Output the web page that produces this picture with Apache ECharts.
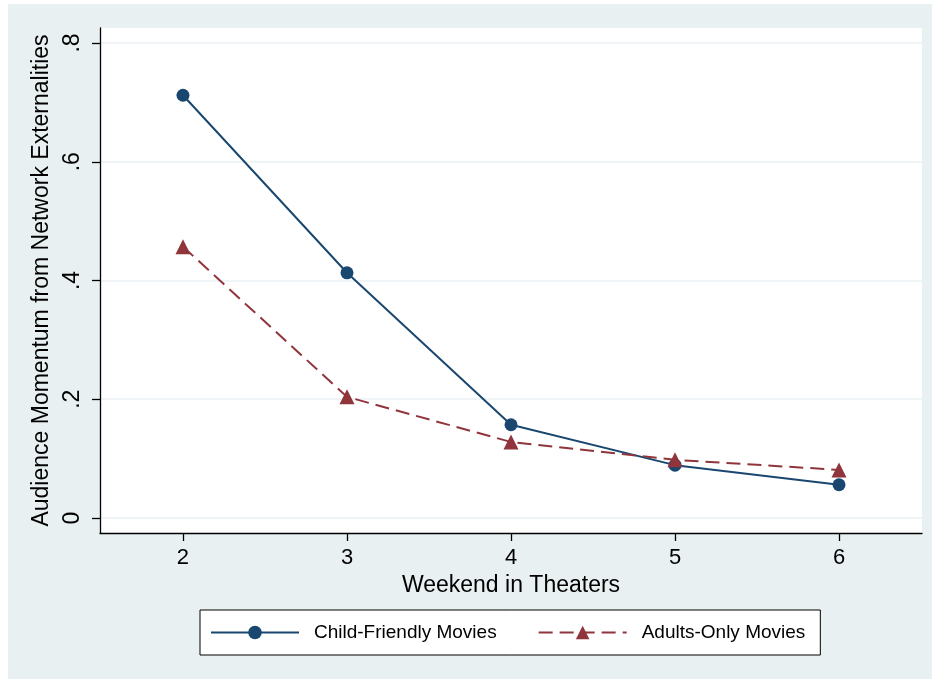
<!DOCTYPE html>
<html>
<head>
<meta charset="utf-8">
<script src="https://cdn.jsdelivr.net/npm/echarts@6/dist/echarts.min.js"></script>
<style>
  html, body { margin: 0; padding: 0; background: #ffffff; }
  #chart { width: 932px; height: 680px; }
</style>
</head>
<body>
<div id="chart"></div>
<script>
// Weekend in theaters (x) and audience momentum per audience type
const weekends = [2, 3, 4, 5, 6];
const childFriendly = [0.712, 0.413, 0.157, 0.089, 0.056];
const adultsOnly = [0.457, 0.204, 0.128, 0.098, 0.081];
const yTicks = [0, 0.2, 0.4, 0.6, 0.8];
const xTicks = [2, 3, 4, 5, 6];

const FONT = 'Liberation Sans, Arial, Helvetica, sans-serif';
const NAVY = '#1a476f';
const MAROON = '#90353b';

function fmtY(v) {
  if (Math.abs(v) < 1e-9) return '0';
  return String(Math.round(v * 10) / 10).replace(/^0\./, '.');
}

const chart = echarts.init(document.getElementById('chart'));
chart.setOption({
  animation: false,
  backgroundColor: 'transparent',
  graphic: [{
    type: 'rect',
    z: -10,
    silent: true,
    shape: { x: 8, y: 4, width: 924, height: 675 },
    style: { fill: '#e9f0f2' }
  }],
  grid: {
    left: 100, top: 28, right: 10, bottom: 147,
    show: true, backgroundColor: '#ffffff', borderWidth: 0
  },
  xAxis: {
    type: 'value',
    min: 1.494, max: 6.506,
    name: 'Weekend in Theaters',
    nameLocation: 'middle',
    nameGap: 38,
    nameTextStyle: { fontFamily: FONT, fontSize: 23, color: '#000' },
    axisLine: { show: true, onZero: false, lineStyle: { color: '#000', width: 1.3 } },
    axisTick: { show: true, length: 8, customValues: xTicks, lineStyle: { color: '#000', width: 1.3 } },
    axisLabel: { customValues: xTicks, margin: 14, fontFamily: FONT, fontSize: 22, color: '#000' },
    splitLine: { show: false }
  },
  yAxis: {
    type: 'value',
    min: -0.0253, max: 0.8253,
    name: 'Audience Momentum from Network Externalities',
    nameLocation: 'middle',
    nameGap: 46,
    nameTextStyle: { fontFamily: FONT, fontSize: 23, color: '#000' },
    axisLine: { show: true, onZero: false, lineStyle: { color: '#000', width: 1.3 } },
    axisTick: { show: true, length: 8, customValues: yTicks, lineStyle: { color: '#000', width: 1.3 } },
    axisLabel: {
      customValues: yTicks, rotate: 90, margin: 16,
      fontFamily: FONT, fontSize: 23, color: '#000',
      formatter: fmtY
    },
    splitLine: { show: true, lineStyle: { color: '#eaf2f3', width: 1.5 } }
  },
  legend: {
    left: 200, top: 610,
    width: 622,
    orient: 'horizontal',
    backgroundColor: '#ffffff',
    borderColor: '#000',
    borderWidth: 1,
    padding: [13, 15, 13, 10],
    itemWidth: 88,
    itemHeight: 17,
    itemGap: 41,
    textStyle: { fontFamily: FONT, fontSize: 19, color: '#000', padding: [0, 0, 0, 10] },
    data: ['Child-Friendly Movies', 'Adults-Only Movies']
  },
  series: [
    {
      name: 'Child-Friendly Movies',
      type: 'line',
      data: weekends.map((w, i) => [w, childFriendly[i]]),
      symbol: 'circle',
      symbolSize: 13,
      color: NAVY,
      lineStyle: { color: NAVY, width: 2 },
      itemStyle: { color: NAVY }
    },
    {
      name: 'Adults-Only Movies',
      type: 'line',
      data: weekends.map((w, i) => [w, adultsOnly[i]]),
      symbol: 'triangle',
      symbolSize: 15,
      color: MAROON,
      lineStyle: { color: MAROON, width: 2, type: [14, 7] },
      itemStyle: { color: MAROON }
    }
  ]
});
</script>
</body>
</html>
